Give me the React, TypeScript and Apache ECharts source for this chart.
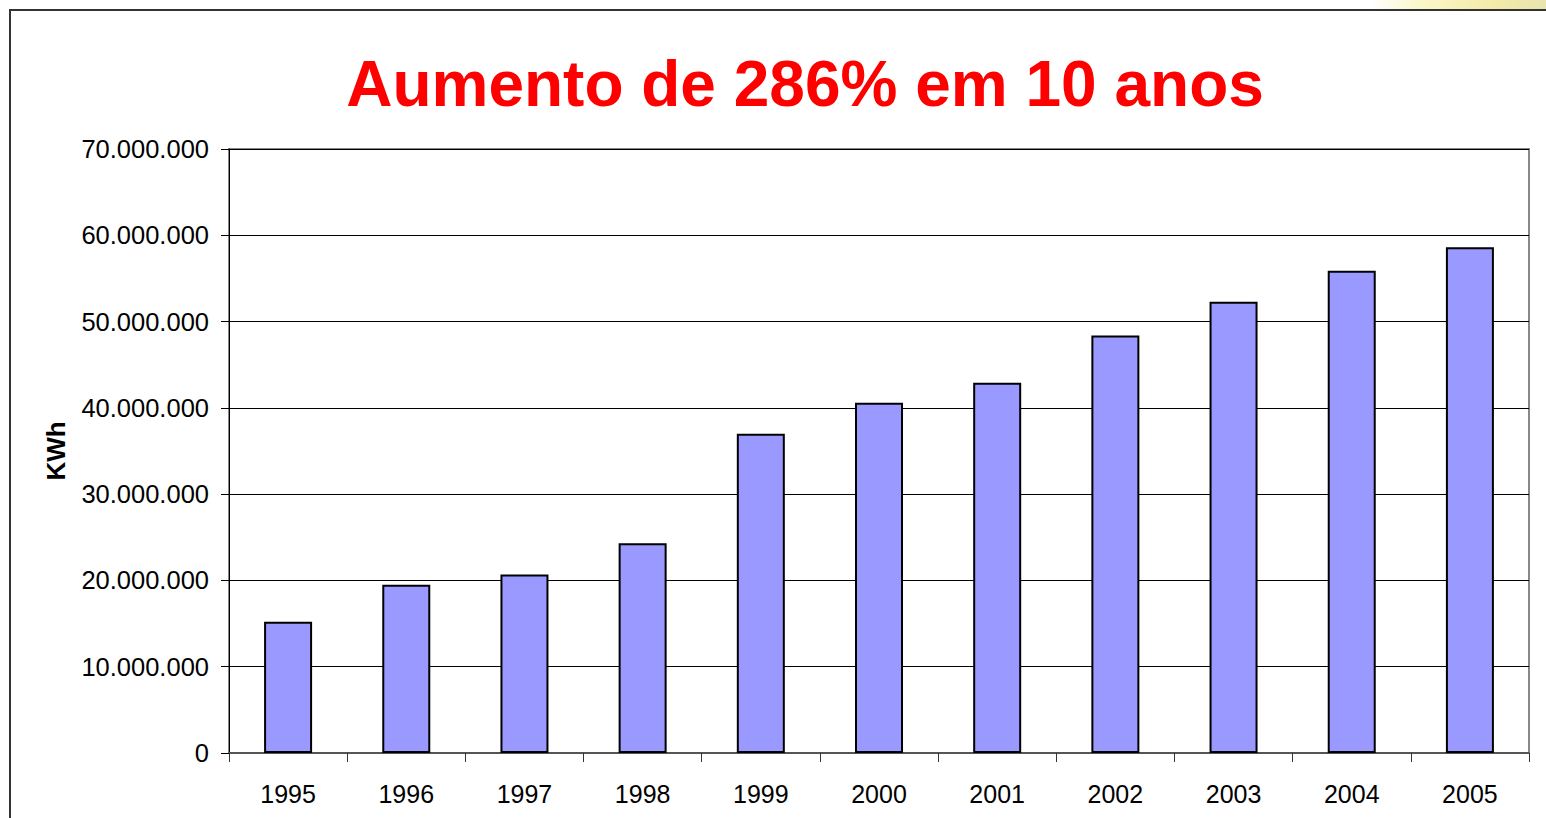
import React, { useEffect, useRef } from "react";
import * as echarts from "echarts";

const years = ["1995", "1996", "1997", "1998", "1999", "2000", "2001", "2002", "2003", "2004", "2005"];
const consumo = [15200000, 19500000, 20700000, 24300000, 37000000, 40600000, 42900000, 48400000, 52300000, 55900000, 58600000];
const titleText = "Aumento de 286% em 10 anos";
const yAxisName = "KWh";

function fmt(v: number): string {
  return String(Math.round(v)).replace(/\B(?=(\d{3})+(?!\d))/g, ".");
}

export default function App() {
  const ref = useRef<HTMLDivElement>(null);
  useEffect(() => {
    if (!ref.current) return;
    const chart = echarts.init(ref.current, undefined, { renderer: "svg" });
    const font = "'Liberation Sans', Arial, sans-serif";
    chart.setOption({
      animation: false,
      backgroundColor: "#ffffff",
      title: {
        text: titleText,
        left: 800,
        top: 47,
        textAlign: "center",
        textStyle: { color: "#ff0000", fontSize: 64, fontWeight: "bold", fontFamily: font },
      },
      grid: { left: 229, top: 149, width: 1300, height: 604, show: true, borderColor: "#888888", borderWidth: 2, backgroundColor: "transparent" },
      xAxis: {
        type: "category",
        data: years,
        axisLine: { lineStyle: { color: "#555555", width: 2 } },
        axisTick: { show: true, length: 9, interval: 0, alignWithLabel: false, lineStyle: { color: "#333333", width: 1 } },
        axisLabel: { color: "#000000", fontSize: 25, fontFamily: font, margin: 28, interval: 0 },
        splitLine: { show: false },
      },
      yAxis: {
        type: "value",
        min: 0,
        max: 70000000,
        interval: 10000000,
        name: yAxisName,
        nameLocation: "middle",
        nameGap: 160,
        nameRotate: 90,
        nameTextStyle: { color: "#000000", fontSize: 26, fontWeight: "bold", fontFamily: font },
        axisLine: { show: true, lineStyle: { color: "#000000", width: 1 } },
        axisTick: { show: true, length: 8, lineStyle: { color: "#000000", width: 1 } },
        axisLabel: { color: "#000000", fontSize: 25.5, fontFamily: font, margin: 20, formatter: (v: number) => fmt(v) },
        splitLine: { show: true, lineStyle: { color: "#000000", width: 1 } },
      },
      series: [
        {
          type: "bar",
          data: consumo,
          barWidth: 48,
          itemStyle: { color: "#9999ff", borderColor: "#000000", borderWidth: 2 },
        },
      ],
      graphic: [
        {
          type: "rect",
          z: 100,
          shape: { x: 1370, y: 0, width: 176, height: 9 },
          style: {
            fill: new echarts.graphic.LinearGradient(0, 0, 1, 0, [
              { offset: 0, color: "#ffffff" },
              { offset: 0.3, color: "#fbf7c8" },
              { offset: 0.7, color: "#f3eba8" },
              { offset: 1, color: "#e9e4b0" },
            ]),
          },
        },
        {
          type: "rect",
          z: 100,
          shape: { x: 10, y: 10, width: 1600, height: 900 },
          style: { fill: "none", stroke: "#333333", lineWidth: 2 },
        },
      ],
    });
    return () => chart.dispose();
  }, []);
  return <div ref={ref} style={{ position: "fixed", left: 0, top: 0, width: 1546, height: 818 }} />;
}
